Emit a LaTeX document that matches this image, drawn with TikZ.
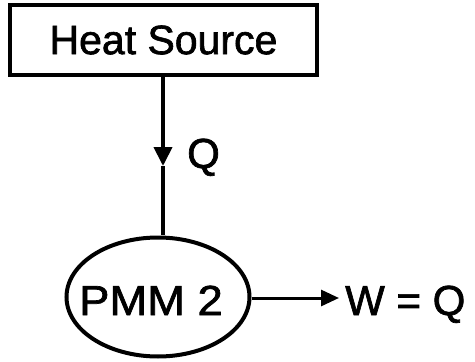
\documentclass[tikz,border=0pt]{standalone}
\usepackage{fontspec}
\setmainfont{Liberation Sans}[FakeBold=1.6,AutoFakeBold=1.6]
\usetikzlibrary{arrows.meta,shapes.geometric}
\begin{document}
\begin{tikzpicture}[x=1pt,y=-1pt,
  lbl/.style={font=\fontsize{42}{46}\selectfont\bfseries, inner sep=0pt},
  thick3/.style={line width=4pt}]
\useasboundingbox (0,0) rectangle (475,362);
\node[draw, thick3, minimum width=307pt, minimum height=70pt, inner sep=0pt,
      font=\fontsize{41}{46}\selectfont\bfseries] (hs) at (163.5,40) {Heat Source};
\node[draw, ellipse, thick3, minimum width=183pt, minimum height=119pt, inner sep=0pt] (pmm) at (158,297) {};
\node[lbl, anchor=base] (pmmtext) at (151,315) {\scalebox{1.08}[1]{PMM 2}};
\coordinate (tip) at (163,166);
\draw[thick3, -{Triangle[length=19pt,width=18pt]}] (hs.south -| tip) -- (tip);
\draw[thick3] (tip) -- ([yshift=1pt]pmm.north -| tip);
\node[lbl, anchor=base west] (q) at (187,168) {Q};
\coordinate (wend) at (339,298);
\draw[line width=3pt, -{Triangle[length=18pt,width=16pt]}] (pmm.east |- wend) -- (wend);
\node[lbl, anchor=base west] (w) at (345,315) {W = Q};
\end{tikzpicture}
\end{document}
